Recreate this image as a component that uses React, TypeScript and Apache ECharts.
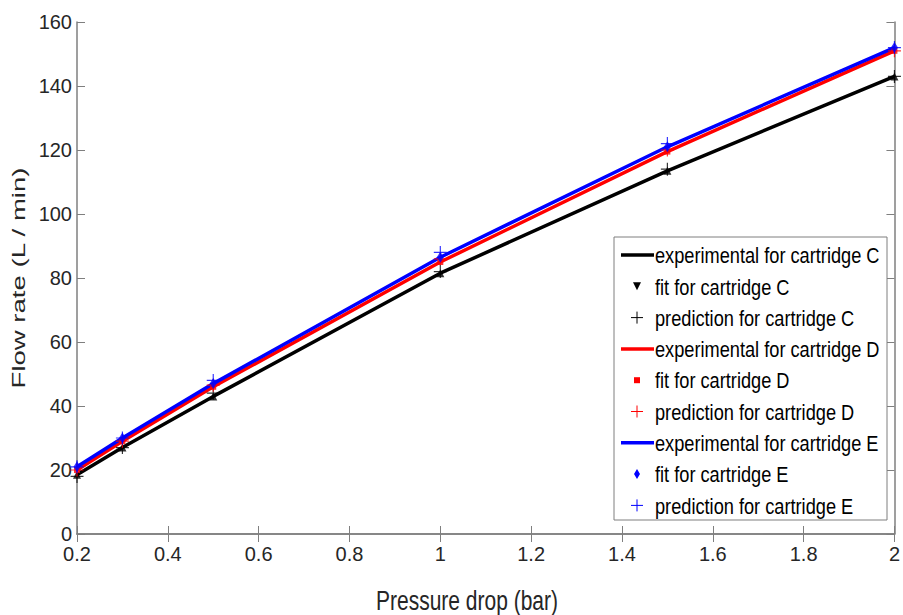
import React, { useEffect, useRef } from "react";
import * as echarts from "echarts";

const pressure = [0.2, 0.3, 0.5, 1, 1.5, 2];
const expC = [18.5, 27, 43, 81.5, 113.5, 143];
const expD = [20, 29, 46, 85, 119.5, 151];
const expE = [21, 30, 47, 86.5, 121, 152];
const fitC = [18.5, 27, 43, 81.5, 113.5, 143];
const fitD = [20, 29, 46, 85, 119.5, 151];
const fitE = [21, 30, 47, 86.5, 121, 152];
const predC = [18, 27, 44, 82, 114, 143];
const predD = [20, 29, 46.5, 86, 120, 151];
const predE = [21, 30, 48, 88, 122, 152];

const legendLabels = [
  "experimental for cartridge C",
  "fit for cartridge C",
  "prediction for cartridge C",
  "experimental for cartridge D",
  "fit for cartridge D",
  "prediction for cartridge D",
  "experimental for cartridge E",
  "fit for cartridge E",
  "prediction for cartridge E",
];
const xTitle = "Pressure drop (bar)";
const yTitle = "Flow rate (L / min)";

const PLUS = "path://M-0.09,-1H0.09V-0.09H1V0.09H0.09V1H-0.09V0.09H-1V-0.09H-0.09Z";
const FONT = "'Liberation Sans', Arial, sans-serif";

const pairs = (ys: number[]) => pressure.map((x, i) => [x, ys[i]]);

export default function App() {
  const ref = useRef<HTMLDivElement>(null);
  useEffect(() => {
    document.body.style.margin = "0";
    const chart = echarts.init(ref.current!, null, { renderer: "svg" });
    const axisColor = "#7f7f7f";
    const labelColor = "#262626";
    const lineSeries = (name: string, data: number[], color: string) => ({
      name,
      type: "line",
      data: pairs(data),
      symbol: "none",
      lineStyle: { color, width: 3.5 },
      z: 2,
    });
    const scatter = (name: string, data: number[], color: string, symbol: string, size: number | number[]) => ({
      name,
      type: "scatter",
      data: pairs(data),
      symbol,
      symbolSize: size,
      itemStyle: { color },
      z: 3,
    });

    const lx = 614, ly = 237, lw = 273, lh = 283;
    const rowH = 31.3;
    const els: any[] = [
      { type: "rect", shape: { x: lx, y: ly, width: lw, height: lh }, style: { fill: "#fff", stroke: axisColor, lineWidth: 1 }, z: 10 },
    ];
    const colors = ["#000000", "#ff0000", "#0000ff"];
    for (let i = 0; i < 9; i++) {
      const cy = ly + 18 + i * rowH;
      const c = colors[Math.floor(i / 3)];
      const kind = i % 3;
      const mx = lx + 23;
      if (kind === 0) {
        els.push({ type: "line", shape: { x1: lx + 7, y1: cy, x2: lx + 40, y2: cy }, style: { stroke: c, lineWidth: 3.5 }, z: 11 });
      } else if (kind === 1) {
        if (i === 1) {
          els.push({ type: "polygon", shape: { points: [[mx - 4, cy - 4], [mx + 4, cy - 4], [mx, cy + 4]] }, style: { fill: c }, z: 11 });
        } else if (i === 4) {
          els.push({ type: "rect", shape: { x: mx - 3, y: cy - 3, width: 6, height: 6 }, style: { fill: c }, z: 11 });
        } else {
          els.push({ type: "polygon", shape: { points: [[mx, cy - 5], [mx + 3, cy], [mx, cy + 5], [mx - 3, cy]] }, style: { fill: c }, z: 11 });
        }
      } else {
        els.push({ type: "line", shape: { x1: mx - 6, y1: cy, x2: mx + 6, y2: cy }, style: { stroke: c, lineWidth: 1 }, z: 11 });
        els.push({ type: "line", shape: { x1: mx, y1: cy - 6, x2: mx, y2: cy + 6 }, style: { stroke: c, lineWidth: 1 }, z: 11 });
      }
      els.push({
        type: "text",
        x: lx + 41,
        y: cy,
        scaleY: 1.25,
        style: { text: legendLabels[i], fill: "#000", font: `18.2px ${FONT}`, textVerticalAlign: "middle" },
        z: 11,
      });
    }
    els.push({
      type: "text",
      x: 467,
      y: 600,
      scaleY: 1.3,
      style: { text: xTitle, fill: labelColor, font: `21px ${FONT}`, textAlign: "center", textVerticalAlign: "middle" },
    });
    els.push({
      type: "text",
      x: 19,
      y: 278,
      rotation: Math.PI / 2,
      scaleX: 1.45,
      style: { text: yTitle, fill: labelColor, font: `19px ${FONT}`, textAlign: "center", textVerticalAlign: "middle" },
    });

    chart.setOption({
      animation: false,
      backgroundColor: "#fff",
      grid: { left: 77, right: 5, top: 22, bottom: 81, containLabel: false },
      xAxis: [
        {
          type: "value",
          min: 0.2,
          max: 2,
          interval: 0.2,
          axisLine: { show: true, lineStyle: { color: axisColor, width: 1.5 } },
          axisTick: { show: true, inside: true, length: 8, lineStyle: { color: axisColor } },
          axisLabel: { color: labelColor, fontSize: 20, fontFamily: FONT, margin: 10, formatter: (v: number) => String(+v.toFixed(1)) },
          splitLine: { show: false },
        },
        {
          type: "value",
          position: "top",
          min: 0.2,
          max: 2,
          interval: 0.2,
          axisLine: { show: true, lineStyle: { color: axisColor, width: 1.5 } },
          axisTick: { show: true, inside: true, length: 8, lineStyle: { color: axisColor } },
          axisLabel: { show: false },
          splitLine: { show: false },
        },
      ],
      yAxis: [
        {
          type: "value",
          min: 0,
          max: 160,
          interval: 20,
          axisLine: { show: true, lineStyle: { color: axisColor, width: 1.5 } },
          axisTick: { show: true, inside: true, length: 8, lineStyle: { color: axisColor } },
          axisLabel: { color: labelColor, fontSize: 20, fontFamily: FONT, margin: 5 },
          splitLine: { show: false },
        },
        {
          type: "value",
          position: "right",
          min: 0,
          max: 160,
          interval: 20,
          axisLine: { show: true, lineStyle: { color: axisColor, width: 1.5 } },
          axisTick: { show: true, inside: true, length: 8, lineStyle: { color: axisColor } },
          axisLabel: { show: false },
          splitLine: { show: false },
        },
      ],
      series: [
        lineSeries("experimental for cartridge C", expC, "#000000"),
        scatter("fit for cartridge C", fitC, "#000000", "triangle", 8),
        scatter("prediction for cartridge C", predC, "#000000", PLUS, 13),
        lineSeries("experimental for cartridge D", expD, "#ff0000"),
        scatter("fit for cartridge D", fitD, "#ff0000", "rect", 6),
        scatter("prediction for cartridge D", predD, "#ff0000", PLUS, 13),
        lineSeries("experimental for cartridge E", expE, "#0000ff"),
        scatter("fit for cartridge E", fitE, "#0000ff", "diamond", [7, 11]),
        scatter("prediction for cartridge E", predE, "#0000ff", PLUS, 13),
      ],
      graphic: els,
    });
    return () => chart.dispose();
  }, []);
  return <div ref={ref} style={{ width: 903, height: 615 }} />;
}
